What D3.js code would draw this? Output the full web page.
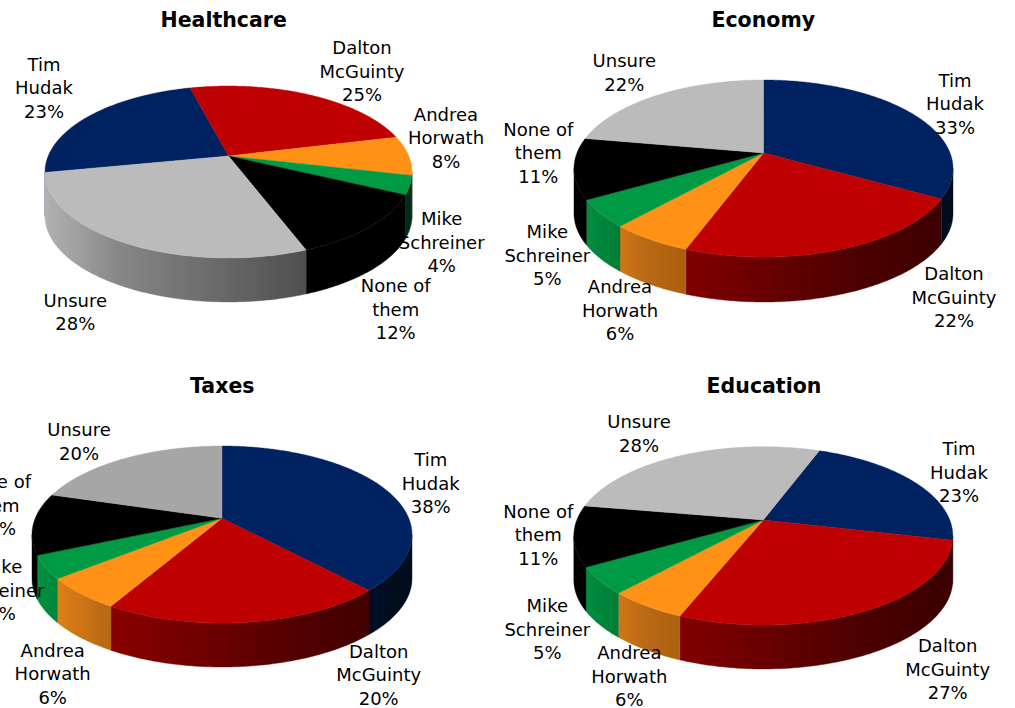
<!DOCTYPE html>
<html>
<head>
<meta charset="utf-8">
<script src="https://cdn.jsdelivr.net/npm/d3@7"></script>
<style>
  body { margin: 0; background: #fff; }
  svg { display: block; }
  text { font-family: "DejaVu Sans", sans-serif; fill: #000; }
  .title { font-size: 20.5px; font-weight: bold; text-anchor: middle; }
  .label { font-size: 18px; text-anchor: middle; }
</style>
</head>
<body>
<svg id="chart" width="1015" height="708"></svg>
<script>
var candidates = ["Tim Hudak", "Dalton McGuinty", "Andrea Horwath", "Mike Schreiner", "None of them", "Unsure"];
var labelLines = [["Tim", "Hudak"], ["Dalton", "McGuinty"], ["Andrea", "Horwath"], ["Mike", "Schreiner"], ["None of", "them"], ["Unsure"]];

// printed percentages
var healthcare = [23, 25, 8, 4, 12, 28];
var economy = [33, 22, 6, 5, 11, 22];
var taxes = [38, 20, 6, 4, 12, 20];
var education = [23, 27, 6, 5, 11, 28];

// slice sizes, they differ a little from the printed numbers
var healthcareSlices = [24, 25.2, 7.4, 3.5, 12.1, 27.7];
var economySlices = [33.1, 22.5, 6, 5, 11.1, 22.2];
var taxesSlices = [38.1, 20.3, 5.9, 4.2, 11.2, 20.4];
var educationSlices = [22.9, 27.5, 5.7, 4.9, 11, 28];

var colors = ["#002060", "#bf0000", "#ff9119", "#009a44", "#000000", "#bbbbbb"];
var taxesColors = ["#002060", "#bf0000", "#ff9119", "#009a44", "#000000", "#a6a6a6"];

// layout only: pie position in the page and the hand placed label spots (centre x, first baseline)
var charts = [
  { title: "Healthcare", tx: 223.7, ty: 27.3, printed: healthcare, slices: healthcareSlices, colors: colors, start: -101,
    cx: 228.5, cy: 156, rx: 183.5, up: 70, down: 102, depth: 44,
    spots: [[44, 70.7], [362, 54], [446, 120.7], [441.7, 225], [395.7, 292], [75.3, 306.7]] },
  { title: "Economy", tx: 763.3, ty: 27.3, printed: economy, slices: economySlices, colors: colors, start: 0,
    cx: 763.5, cy: 153, rx: 189.5, up: 73, down: 104, depth: 45,
    spots: [[955, 86.7], [954, 280], [620, 293], [547.3, 238.3], [538.3, 135.7], [624.3, 67.3]] },
  { title: "Taxes", tx: 222.3, ty: 393.3, printed: taxes, slices: taxesSlices, colors: taxesColors, start: 0,
    cx: 222, cy: 518.3, rx: 190, up: 72.3, down: 104.7, depth: 44,
    spots: [[430.7, 466], [378.7, 657.7], [52.7, 656.7], [1.5, 573.3], [-4, 488.3], [79, 436]] },
  { title: "Education", tx: 764, ty: 393.3, printed: education, slices: educationSlices, colors: colors, start: 20.5,
    cx: 763.3, cy: 520, rx: 189.5, up: 73.3, down: 105, depth: 44,
    spots: [[959, 455], [947.7, 652.3], [629.3, 659], [547.3, 612.3], [538.3, 517.7], [639, 428.3]] }
];

var svg = d3.select("#chart");
var defs = svg.append("defs");
defs.append("filter").attr("id", "soft")
  .append("feGaussianBlur").attr("stdDeviation", 0.45);

var line = d3.line();

function shade(color, m) {
  return d3.interpolateRgb("#000", color)(m);
}

function drawPie(chart, i) {
  // the pie is seen in perspective so the rim is a projected circle
  var k = (chart.down - chart.up) / (chart.down + chart.up);
  var b = chart.up * (1 + k);
  var a = chart.rx * Math.sqrt(1 - k * k);
  var frontFrom = Math.acos(-k);
  var frontTo = 2 * Math.PI - frontFrom;

  function rim(t, drop) {
    var u = Math.sin(t), v = Math.cos(t), w = 1 + k * v;
    return [chart.cx + a * u / w, chart.cy - b * v / w + (drop || 0)];
  }
  function steps(t0, t1) {
    var n = Math.max(2, Math.ceil((t1 - t0) / 0.01));
    return d3.range(n + 1).map(function(j) { return t0 + (t1 - t0) * j / n; });
  }

  var startRad = chart.start * Math.PI / 180;
  var arcs = d3.pie().sort(null)
    .startAngle(startRad).endAngle(startRad + 2 * Math.PI)(chart.slices);

  var g = svg.append("g").attr("filter", "url(#soft)");

  // side walls, one gradient per slice across the whole pie width
  arcs.forEach(function(d, j) {
    var id = "side" + i + "_" + j;
    var grad = defs.append("linearGradient").attr("id", id)
      .attr("gradientUnits", "userSpaceOnUse")
      .attr("x1", chart.cx - chart.rx).attr("x2", chart.cx + chart.rx)
      .attr("y1", 0).attr("y2", 0);
    [[0, 0.95], [0.2, 0.72], [0.7, 0.43], [1, 0.3]].forEach(function(s) {
      grad.append("stop").attr("offset", s[0]).attr("stop-color", shade(chart.colors[j], s[1]));
    });

    // angles can run past a full turn, so test this turn and the one either side
    [-2 * Math.PI, 0, 2 * Math.PI].forEach(function(turn) {
      var t0 = Math.max(d.startAngle + turn, frontFrom);
      var t1 = Math.min(d.endAngle + turn, frontTo);
      if (t1 <= t0) return;
      var ts = steps(t0, t1);
      var pts = ts.map(function(t) { return rim(t); })
        .concat(ts.slice().reverse().map(function(t) { return rim(t, chart.depth); }));
      g.append("path").attr("d", line(pts) + "Z")
        .attr("fill", "url(#" + id + ")")
        .attr("stroke", "url(#" + id + ")").attr("stroke-width", 0.4);
    });
  });

  // top faces
  arcs.forEach(function(d, j) {
    var pts = [[chart.cx, chart.cy]].concat(steps(d.startAngle, d.endAngle).map(function(t) { return rim(t); }));
    g.append("path").attr("d", line(pts) + "Z")
      .attr("fill", chart.colors[j])
      .attr("stroke", chart.colors[j]).attr("stroke-width", 0.4);
  });

  svg.append("text").attr("class", "title")
    .attr("x", chart.tx).attr("y", chart.ty).text(chart.title);

  chart.spots.forEach(function(spot, j) {
    var lines = labelLines[j].concat(chart.printed[j] + "%");
    var t = svg.append("text").attr("class", "label");
    lines.forEach(function(s, n) {
      t.append("tspan").attr("x", spot[0]).attr("y", spot[1] + n * 23.5).text(s);
    });
  });
}

charts.forEach(drawPie);
</script>
</body>
</html>
